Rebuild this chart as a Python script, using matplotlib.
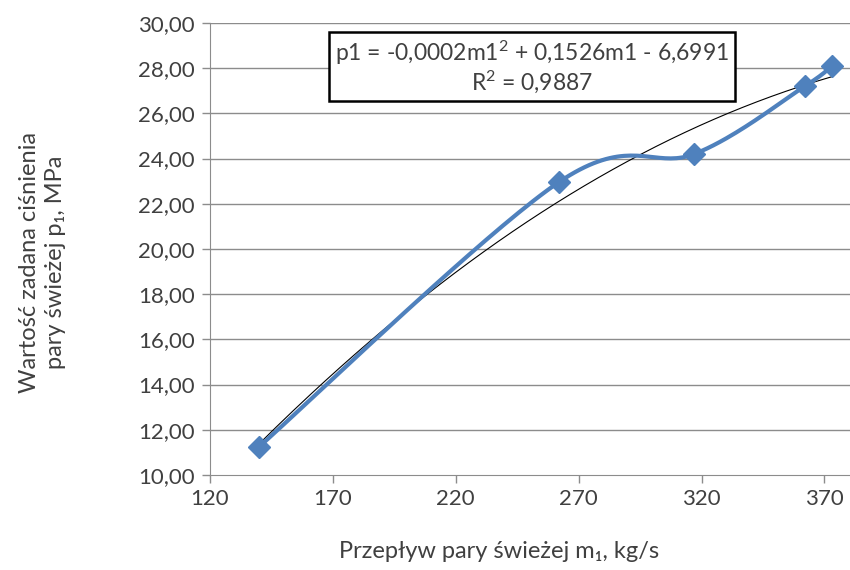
import numpy as np
import matplotlib.pyplot as plt

plt.rcParams['font.family'] = ['Lato', 'DejaVu Sans']
plt.rcParams['mathtext.fontset'] = 'custom'
plt.rcParams['mathtext.rm'] = 'Lato'
plt.rcParams['mathtext.it'] = 'Lato'
plt.rcParams['mathtext.default'] = 'regular'

# dane
m1 = [140, 262, 317, 362, 373]
p1 = [11.25, 22.96, 24.2, 27.2, 28.1]
x_ticks = [120, 170, 220, 270, 320, 370]
y_ticks = [10, 12, 14, 16, 18, 20, 22, 24, 26, 28, 30]
rownanie = "p1 = -0,0002m1$^2$ + 0,1526m1 - 6,6991\nR$^2$ = 0,9887"

blue = '#4F81BD'
txt = '#404040'
grid = '#8C8C8C'


def smooth(x, y, sx=2.45, sy=22.6, n=40):
    # wygladzanie jak w Excelu (Catmull-Rom w pikselach)
    P = np.column_stack([np.array(x) * sx, np.array(y) * sy])
    P = np.vstack([P[0], P, P[-1]])
    out = []
    for i in range(1, len(P) - 2):
        p0, p1_, p2, p3 = P[i - 1], P[i], P[i + 1], P[i + 2]
        c1 = p1_ + (p2 - p0) / 6
        c2 = p2 - (p3 - p1_) / 6
        t = np.linspace(0, 1, n)[:, None]
        seg = (1 - t)**3 * p1_ + 3 * (1 - t)**2 * t * c1 + 3 * (1 - t) * t**2 * c2 + t**3 * p2
        out.append(seg)
    out = np.vstack(out)
    return out[:, 0] / sx, out[:, 1] / sy


fig = plt.figure(figsize=(8.5, 5.7), dpi=100)
ax = fig.add_axes([0.247, 0.1667, 0.753, 0.793])

for v in y_ticks[1:]:
    ax.axhline(v, color=grid, lw=1.0, zorder=1)

# linia trendu (wielomian 2 stopnia)
c = np.polyfit(m1, p1, 2)
xt = np.linspace(min(m1), max(m1), 200)
ax.plot(xt, np.polyval(c, xt), color='black', lw=0.8, zorder=2)

xs, ys = smooth(m1, p1)
ax.plot(xs, ys, color=blue, lw=3, zorder=3, solid_capstyle='round')
ax.plot(m1, p1, ls='none', marker='D', ms=11, color=blue, zorder=4)

ax.set_xlim(120, 380.4)
ax.set_ylim(10, 30)
ax.set_xticks(x_ticks)
ax.set_yticks(y_ticks)
ax.set_yticklabels([('%.2f' % v).replace('.', ',') for v in y_ticks])
ax.tick_params(colors=grid, labelcolor=txt, labelsize=16, length=6, width=1)
ax.tick_params(axis='x', pad=4)
ax.tick_params(axis='y', pad=5)

for s in ['top', 'right']:
    ax.spines[s].set_visible(False)
ax.spines['left'].set_color(grid)
ax.spines['bottom'].set_color(grid)

ax.text(0.503, 0.903, rownanie, transform=ax.transAxes, ha='center', va='center',
        fontsize=16.5, color=txt, linespacing=1.1, zorder=5,
        bbox=dict(boxstyle='square,pad=0.25', fc='white', ec='black', lw=1.8))

fig.text(0.5875, 0.033, 'Przepływ pary świeżej m\u2081, kg/s', ha='center', va='center',
         fontsize=17, color=txt)
fig.text(0.05, 0.54, 'Wartość zadana ciśnienia\npary świeżej p\u2081, MPa', ha='center',
         va='center', rotation=90, fontsize=17, color=txt, linespacing=1.3)

fig.savefig('out.png', dpi=100)
